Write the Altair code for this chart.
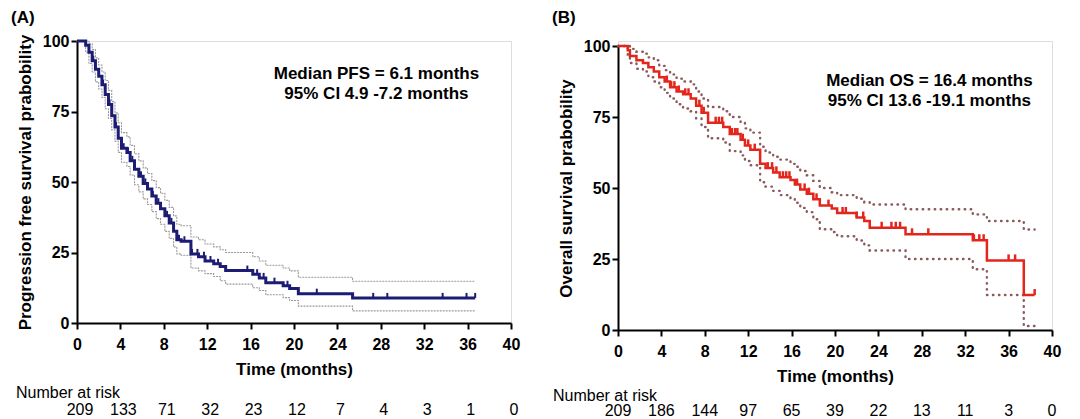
import altair as alt
import pandas as pd

FONT = "Liberation Sans"

# ---------------- Panel A : progression free survival ----------------
a_time = [0, 0.8, 1.1, 1.4, 1.7, 2.0, 2.3, 2.6, 2.9, 3.2, 3.5, 3.8, 4.1, 4.6, 4.9, 5.3, 5.7, 6.1, 6.5, 6.9,
          7.3, 7.7, 8.1, 8.5, 8.9, 9.2, 9.6, 10.5, 11.2, 11.8, 12.6, 13.2, 13.7, 16.2, 16.8, 17.4, 19.0, 19.6, 20.4, 25.4]
a_surv = [100, 98.5, 96, 93, 90, 87.5, 84.5, 81, 77.5, 73.5, 69.5, 65.5, 62, 60.5, 57.5, 54.5, 52, 49.5, 47.5, 45,
          42.5, 40.5, 38, 35.5, 32.5, 29.5, 29, 24.5, 23.5, 22, 21, 20, 18.6, 17.3, 16, 14.3, 13.2, 12.2, 10.4, 8.9]
a_upper = [100, 100, 99, 97, 94, 91.5, 89, 86, 82.5, 78.5, 74.5, 71, 67.5, 66, 63, 60, 57.5, 55, 53, 50.5,
           48, 46, 43.5, 41, 38, 35, 34.5, 30.5, 29.5, 28, 27, 26, 25, 23.5, 22, 20.5, 19.5, 18.5, 16.2, 14.8]
a_lower = [100, 96, 92, 89, 85.5, 83, 80, 76, 72.5, 68.5, 64.5, 60.5, 57, 55.5, 52.5, 49, 46.5, 44, 42, 39.5,
           37, 35, 32.5, 30, 27, 24.5, 24, 19.5, 18.5, 17.5, 16.5, 15, 13.8, 12.5, 11.5, 10, 9, 8, 6, 4.3]
a_end = 36.7
a_censor = [1.5, 2.4, 3.0, 3.6, 4.3, 4.7, 5.1, 5.9, 6.3, 7.0, 7.5, 8.3, 8.7, 9.4, 9.9, 10.6, 11.1, 11.7, 12.3,
            13.0, 15.7, 16.6, 17.2, 18.2, 19.4, 22.1, 27.3, 28.6, 33.7, 35.9, 36.7]
a_annot = ["Median PFS = 6.1 months", "95% CI 4.9 -7.2 months"]
a_annot_t = [27.6, 27.6]
a_annot_p = [88.3, 81.2]
a_risk = [209, 133, 71, 32, 23, 12, 7, 4, 3, 1, 0]

# ---------------- Panel B : overall survival ----------------
b_time = [0, 0.9, 1.1, 1.7, 2.3, 2.8, 3.3, 3.8, 4.3, 4.8, 5.4, 6.0, 6.7, 7.2, 7.7, 8.3, 9.7, 10.3, 11.3, 11.7,
          12.2, 13.1, 13.6, 14.3, 14.9, 15.9, 16.3, 16.8, 17.4, 18.0, 18.6, 19.7, 20.2, 22.0, 22.7, 23.2, 26.5, 32.7, 34.0, 37.4]
b_surv = [100, 98.5, 96.5, 95, 94, 92.5, 91, 89, 87.5, 85.5, 84, 83, 81.5, 79, 76.5, 73, 71.5, 69, 67, 65,
          63.5, 58.5, 57, 55.5, 53.8, 52.8, 51.2, 49.5, 48, 46, 43.8, 42.8, 41.2, 39.6, 38.4, 36, 33.7, 31.6, 24.5, 12.3]
b_upper = [100, 100, 99, 98, 97.3, 96, 95, 93, 91.5, 90, 88.5, 87.5, 86.5, 84, 81.5, 78.5, 77, 75, 73, 71,
           69.5, 64.5, 62.5, 61, 60, 58.5, 57.5, 56, 54.5, 52.5, 50, 48.5, 47.5, 46.2, 45, 44.2, 42.5, 40.7, 38.4, 35.4]
b_lower = [100, 97, 94, 92, 91, 89, 87.5, 85.5, 83.5, 81.5, 79.5, 78, 77, 74.5, 71.5, 67.5, 66, 63, 61.5, 59.5,
           58, 52, 50.5, 49, 47.5, 46.5, 44.8, 43, 41.5, 39, 35.5, 34.5, 33, 31.5, 29.8, 28, 25, 21.4, 12.3, 1.4]
b_end = 38.4
b_censor = [4.5, 4.9, 5.2, 5.6, 6.2, 6.5, 7.5, 7.9, 9.0, 9.3, 9.6, 10.5, 10.8, 11.0, 11.5, 12.0, 12.6, 13.8,
            14.2, 14.6, 15.2, 15.5, 15.8, 16.5, 17.2, 17.6, 18.3, 19.4, 20.7, 21.0, 22.0, 22.6, 24.3, 25.2,
            25.6, 26.0, 27.1, 28.6, 32.8, 33.3, 33.7, 36.0, 36.6, 38.4]
b_annot = ["Median OS = 16.4 months", "95% CI 13.6 -19.1 months"]
b_annot_t = [28.7, 28.7]
b_annot_p = [87.7, 80.6]
b_risk = [209, 186, 144, 97, 65, 39, 22, 13, 11, 3, 0]

risk_times = [0, 4, 8, 12, 16, 20, 24, 28, 32, 36, 40]
x_ticks = [0, 4, 8, 12, 16, 20, 24, 28, 32, 36, 40]
y_ticks = [0, 25, 50, 75, 100]


def step_at(times, vals, t):
    v = vals[0]
    for ti, vi in zip(times, vals):
        if ti <= t:
            v = vi
    return v


def panel(label, times, surv, upper, lower, end, censor, annot, annot_t, annot_p, risk,
          ytitle, color, ci_color, ci_dash, ci_width, line_width, width, height, y_top,
          risk_dx, nar_x, nar_dy, num_dy, tick_h, tick_w):
    rows = []
    for name, vals in (("upper", upper), ("lower", lower)):
        for t, v in zip(times, vals):
            rows.append({"t": t, "p": v, "band": name})
        rows.append({"t": end, "p": vals[-1], "band": name})
    ci_df = pd.DataFrame(rows)
    km_df = pd.DataFrame({"t": list(times) + [end], "p": list(surv) + [surv[-1]]})
    cens_df = pd.DataFrame({"t": censor, "p": [step_at(times, surv, c) for c in censor]})
    ann_df = pd.DataFrame({"t": annot_t, "p": annot_p, "s": annot})
    risk_df = pd.DataFrame({"t": risk_times, "n": [str(r) for r in risk]})

    full_h = height + y_top
    xs = alt.X("t:Q", scale=alt.Scale(domain=[0, 40], nice=False, zero=False),
               axis=alt.Axis(values=x_ticks, title="Time (months)", grid=False,
                             domainColor="black", domainWidth=2, tickColor="black", tickWidth=2,
                             tickSize=6, labelFont=FONT, labelFontWeight="bold", labelFontSize=16,
                             labelColor="black", labelPadding=7, labelFlush=False,
                             titleFont=FONT, titleFontSize=17, titleFontWeight="bold",
                             titleColor="black", titlePadding=9))
    ys = alt.Y("p:Q", scale=alt.Scale(domain=[0, 100], nice=False, range=[full_h, y_top]),
               axis=alt.Axis(values=y_ticks, title=ytitle, grid=False,
                             domainColor="black", domainWidth=2, tickColor="black", tickWidth=2,
                             tickSize=6, labelFont=FONT, labelFontWeight="bold", labelFontSize=16,
                             labelColor="black", labelPadding=2, labelFlush=False,
                             titleFont=FONT, titleFontSize=17, titleFontWeight="bold",
                             titleColor="black", titlePadding=8))

    ci = alt.Chart(ci_df).mark_line(interpolate="step-after", color=ci_color, strokeWidth=ci_width,
                                    strokeDash=ci_dash, strokeCap="round").encode(
        x=xs, y=ys, detail="band:N")
    km = alt.Chart(km_df).mark_line(interpolate="step-after", color=color,
                                    strokeWidth=line_width).encode(x=xs, y=ys)
    cens = alt.Chart(cens_df).mark_tick(orient="vertical", size=tick_h, thickness=tick_w,
                                        yOffset=-tick_h / 2, color=color, opacity=1).encode(x=xs, y=ys)
    ann = alt.Chart(ann_df).mark_text(font=FONT, fontSize=17, fontWeight="bold", color="black",
                                      align="center", baseline="middle").encode(
        x=xs, y=ys, text="s:N")
    lab = alt.Chart(pd.DataFrame({"s": [label]})).mark_text(
        font=FONT, fontSize=17, fontWeight="bold", color="black", align="left", baseline="top").encode(
        x=alt.value(-66), y=alt.value(-31), text="s:N")
    nar = alt.Chart(pd.DataFrame({"s": ["Number at risk"]})).mark_text(
        font=FONT, fontSize=16, color="black", align="left", baseline="middle").encode(
        x=alt.value(nar_x), y=alt.value(full_h + nar_dy), text="s:N")
    rk = alt.Chart(risk_df).mark_text(font=FONT, fontSize=16, color="black", align="center",
                                      baseline="middle", dx=risk_dx).encode(
        x=xs, y=alt.value(full_h + num_dy), text="n:N")
    return alt.layer(ci, km, cens, ann, lab, nar, rk).properties(width=width, height=full_h)


pa = panel("(A)", a_time, a_surv, a_upper, a_lower, a_end, a_censor, a_annot, a_annot_t, a_annot_p, a_risk,
           "Progression free survival prabobility", "#1c1c74", "#9a9a9a", [1.2, 1.8], 1.1, 3,
           434, 282, 0, 3, -61, 70, 87, 5, 2)
pb = panel("(B)", b_time, b_surv, b_upper, b_lower, b_end, b_censor, b_annot, b_annot_t, b_annot_p, b_risk,
           "Overall survival prabobility", "#e3261c", "#8a5a5c", [0.5, 5.5], 2.4, 2.5,
           434, 284, 5, 0, -65, 66, 81, 6, 2.5)

chart = alt.hconcat(pa, pb, spacing=107, bounds="flush").properties(
    padding={"left": 2, "top": 0, "right": 0, "bottom": 0},
    background="white",
).configure_view(stroke=None).configure(font=FONT)

chart.save("out.html", embed_options={"renderer": "svg", "actions": False})
